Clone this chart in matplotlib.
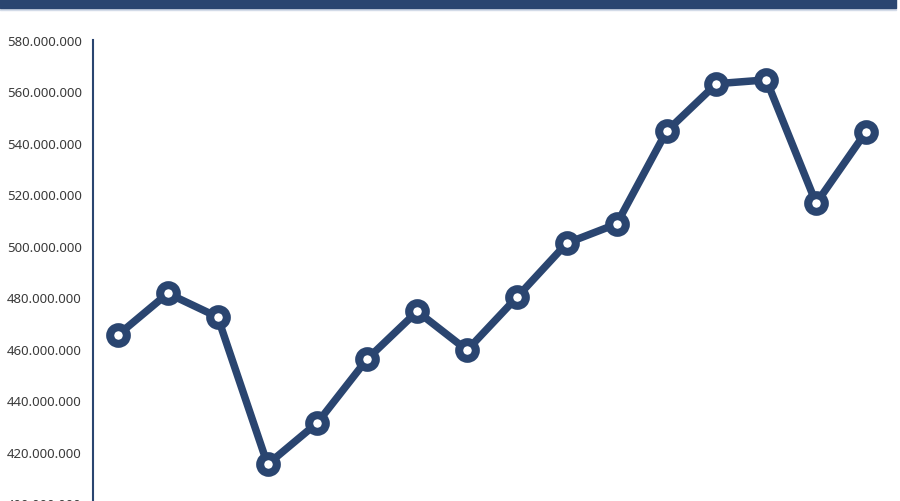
import matplotlib.pyplot as plt
from matplotlib.patches import Rectangle
from matplotlib.ticker import FuncFormatter

# values (16 periods)
periods = list(range(16))
values = [465.3e6, 481.5e6, 472.3e6, 415.0e6, 431.2e6, 456.0e6, 474.5e6, 459.4e6,
          480.0e6, 501.0e6, 508.5e6, 544.5e6, 563.0e6, 564.5e6, 516.5e6, 544.3e6]
yticks = [400e6 + 20e6 * i for i in range(10)]

navy = '#2a4570'

fig = plt.figure(figsize=(9.0, 5.02), dpi=100)
W, H = 900, 502
ax = fig.add_axes([93 / W, -2 / H, (891 - 93) / W, (504 - 41) / H])

ax.plot(periods, values, '-o', color=navy, lw=5.4, ms=12.0, mew=5.8,
        mfc='white', mec=navy, solid_joinstyle='round', clip_on=False, zorder=3)

ax.set_xlim(-0.5, 15.5)
ax.set_ylim(400e6, 580e6)
ax.set_yticks(yticks)
ax.yaxis.set_major_formatter(FuncFormatter(lambda v, p: f'{v:,.0f}'.replace(',', '.')))
ax.set_xticks([])
ax.tick_params(axis='y', length=0, pad=8, labelsize=9.5, labelcolor='#3a3a3a')
for lab in ax.get_yticklabels():
    lab.set_family('Noto Sans')
for s in ('top', 'right', 'bottom'):
    ax.spines[s].set_visible(False)
ax.spines['left'].set_color(navy)
ax.spines['left'].set_linewidth(1.5)

# header band across the top
fig.patches.append(Rectangle((0, 1 - 9 / H), 896 / W, 9 / H, transform=fig.transFigure,
                             color=navy, zorder=5))
fig.patches.append(Rectangle((0, 1 - 11 / H), 896 / W, 2 / H, transform=fig.transFigure,
                             color='#d3dbe8', zorder=4))

fig.savefig('out.png', dpi=100)
